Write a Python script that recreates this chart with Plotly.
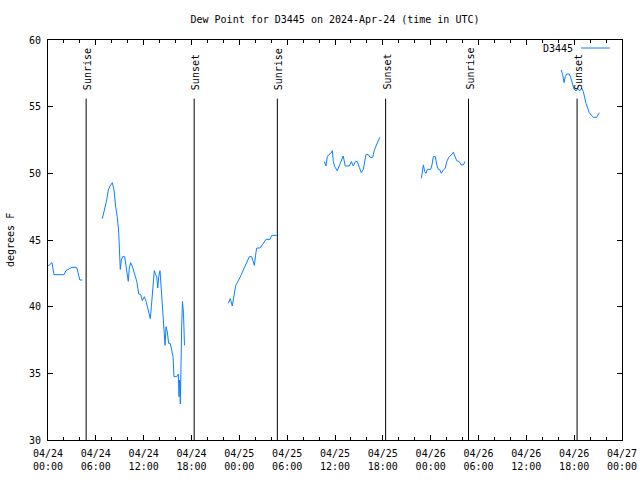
import plotly.graph_objects as go

# ---- data ----
seg1_t = ["2024-04-24 00:00", "2024-04-24 00:30", "2024-04-24 00:45", "2024-04-24 02:00", "2024-04-24 02:15",
          "2024-04-24 03:00", "2024-04-24 03:36", "2024-04-24 04:00", "2024-04-24 04:18"]
seg1_v = [43.05, 43.3, 42.4, 42.4, 42.7, 42.95, 42.95, 42.0, 42.0]

seg2_t = ["06:49", "07:09", "07:22", "07:34", "07:47", "08:04", "08:17", "08:29", "08:41", "08:52", "08:57",
          "09:04", "09:12", "09:22", "09:37", "09:47", "09:57", "10:04", "10:12", "10:22", "10:37", "10:55",
          "11:08", "11:23", "11:38", "11:50", "12:05", "12:18", "12:27", "12:40", "12:50", "12:58", "13:03",
          "13:13", "13:20", "13:31", "13:38", "13:46", "13:53", "14:03", "14:10", "14:18", "14:26", "14:33",
          "14:41", "14:48", "14:58", "15:08", "15:20", "15:31", "15:41", "15:48", "16:09", "16:21", "16:26",
          "16:31", "16:36", "16:46", "16:52", "17:00", "17:03", "17:07"]
seg2_t = ["2024-04-24 " + t for t in seg2_t]
seg2_v = [46.6, 47.4, 48.0, 48.75, 49.05, 49.3, 48.75, 47.5, 46.75, 45.6, 43.75,
          42.8, 43.5, 43.75, 43.75, 43.1, 42.25, 41.9, 42.9, 43.3, 42.95, 42.4,
          41.9, 40.95, 40.9, 40.45, 40.75, 40.4, 40.0, 39.55, 39.1, 40.0, 40.75,
          41.6, 42.7, 42.4, 42.25, 41.4, 42.25, 42.7, 41.5, 40.9, 39.5, 37.9,
          37.1, 38.5, 38.1, 37.25, 37.25, 36.75, 36.25, 34.75, 34.75, 34.95, 33.25,
          34.5, 32.7, 38.5, 40.4, 39.5, 38.0, 37.1]

seg3_t = ["2024-04-24 22:37", "2024-04-24 22:52", "2024-04-24 23:07", "2024-04-24 23:22", "2024-04-24 23:33",
          "2024-04-24 23:45", "2024-04-25 00:00", "2024-04-25 00:15", "2024-04-25 00:30", "2024-04-25 00:45",
          "2024-04-25 01:00", "2024-04-25 01:15", "2024-04-25 01:33", "2024-04-25 01:45", "2024-04-25 01:53",
          "2024-04-25 02:05", "2024-04-25 02:11", "2024-04-25 02:36", "2024-04-25 02:48", "2024-04-25 03:06",
          "2024-04-25 03:21", "2024-04-25 03:51", "2024-04-25 04:04", "2024-04-25 04:41"]
seg3_v = [40.25, 40.6, 40.05, 41.0, 41.6, 41.8, 42.05, 42.4, 42.75, 43.1, 43.5, 43.75, 43.75, 43.4, 43.1,
          44.05, 44.4, 44.4, 44.6, 44.8, 45.05, 45.05, 45.35, 45.35]

seg4_t = ["10:40", "10:52", "11:02", "11:13", "11:28", "11:40", "11:47", "11:58", "12:17", "12:32", "12:47",
          "13:02", "13:17", "13:48", "14:03", "14:18", "14:33", "14:48", "15:03", "15:18", "15:33", "15:44",
          "15:53", "16:11", "16:23", "16:44", "16:56", "17:09", "17:21", "17:37"]
seg4_t = ["2024-04-25 " + t for t in seg4_t]
seg4_v = [50.88, 50.55, 51.25, 51.4, 51.5, 51.7, 50.88, 50.5, 50.2, 50.55, 50.95,
          51.3, 50.55, 50.55, 50.88, 50.55, 50.88, 50.88, 50.45, 50.05, 50.3, 51.05,
          51.4, 51.4, 51.2, 51.2, 51.75, 52.05, 52.38, 52.7]

seg5_t = ["2024-04-25 22:50", "2024-04-25 22:57", "2024-04-25 23:05", "2024-04-25 23:15", "2024-04-25 23:25",
          "2024-04-25 23:35", "2024-04-26 00:00", "2024-04-26 00:10", "2024-04-26 00:20", "2024-04-26 00:35",
          "2024-04-26 00:46", "2024-04-26 00:58", "2024-04-26 01:10", "2024-04-26 01:20", "2024-04-26 01:35",
          "2024-04-26 01:50", "2024-04-26 02:01", "2024-04-26 02:16", "2024-04-26 02:31", "2024-04-26 02:43",
          "2024-04-26 02:50", "2024-04-26 03:01", "2024-04-26 03:16", "2024-04-26 03:35", "2024-04-26 03:50",
          "2024-04-26 04:06", "2024-04-26 04:18"]
seg5_v = [49.63, 50.25, 50.63, 50.13, 50.0, 50.3, 50.3, 50.63, 51.25, 51.25, 50.63, 50.3, 50.25, 50.0,
          50.25, 50.38, 50.88, 51.2, 51.33, 51.45, 51.58, 51.25, 50.95, 50.88, 50.63, 50.63, 50.88]

seg6_t = ["16:23", "16:34", "16:44", "16:53", "17:04", "17:23", "17:34", "17:49", "17:59", "18:14", "18:29",
          "18:44", "18:57", "19:09", "19:19", "19:29", "19:42", "19:54", "20:07", "20:24", "20:50", "20:59", "21:09"]
seg6_t = ["2024-04-26 " + t for t in seg6_t]
seg6_v = [57.75, 57.38, 56.8, 57.25, 57.45, 57.45, 57.2, 56.75, 56.3, 56.2, 56.3,
          56.2, 56.38, 56.13, 55.63, 55.25, 54.88, 54.55, 54.38, 54.2, 54.2, 54.38, 54.55]

sun_times = ["2024-04-24 04:47", "2024-04-24 18:20", "2024-04-25 04:46",
             "2024-04-25 18:21", "2024-04-26 04:45", "2024-04-26 18:22"]
sun_labels = ["Sunrise", "Sunset", "Sunrise", "Sunset", "Sunrise", "Sunset"]

station = "D3445"
title_text = "Dew Point for D3445 on 2024-Apr-24 (time in UTC)"

# ---- assemble series with gaps ----
times, dew = [], []
for t, v in [(seg1_t, seg1_v), (seg2_t, seg2_v), (seg3_t, seg3_v),
             (seg4_t, seg4_v), (seg5_t, seg5_v), (seg6_t, seg6_v)]:
    times += t + [None]
    dew += v + [None]

FONT = "DejaVu Sans Mono"
LINE_COLOR = "#0a80ff"

fig = go.Figure()
fig.add_trace(go.Scatter(x=times, y=dew, mode="lines", connectgaps=False,
                         line=dict(color=LINE_COLOR, width=1), showlegend=False,
                         name=station))

for t, lab in zip(sun_times, sun_labels):
    fig.add_shape(type="line", xref="x", yref="y", x0=t, x1=t, y0=30, y1=55.6,
                  line=dict(color="black", width=1))
    fig.add_annotation(x=t, y=56.1, xref="x", yref="y", text=lab, textangle=-90,
                       showarrow=False, xanchor="center", yanchor="bottom", xshift=1,
                       font=dict(family=FONT, size=10, color="black"))

# legend (gnuplot style: text then sample)
fig.add_annotation(x=0.918, y=0.98, xref="paper", yref="paper", text=station,
                   showarrow=False, xanchor="right", yanchor="middle",
                   font=dict(family=FONT, size=10, color="black"))
fig.add_shape(type="line", xref="paper", yref="paper", x0=0.9286, x1=0.979, y0=0.98, y1=0.98,
              line=dict(color=LINE_COLOR, width=1))

# y label
fig.add_annotation(x=0, y=0.5, xref="paper", yref="paper", text="degrees F", textangle=-90,
                   showarrow=False, xanchor="center", yanchor="middle", xshift=-38,
                   font=dict(family=FONT, size=10, color="black"))

fig.update_layout(
    width=640, height=480,
    margin=dict(l=48, r=18, t=40, b=40, autoexpand=False),
    paper_bgcolor="white", plot_bgcolor="white",
    font=dict(family=FONT, size=10, color="black"),
    title=dict(text=title_text, x=0.5, xref="paper", xanchor="center",
               y=1 - 19 / 480, yref="container", yanchor="middle",
               font=dict(family=FONT, size=10, color="black")),
    showlegend=False,
)
fig.update_xaxes(
    type="date", range=["2024-04-24 00:00", "2024-04-27 00:00"], automargin=False,
    tick0="2024-04-24 00:00", dtick=6 * 3600 * 1000, tickformat="%m/%d<br>%H:%M",
    ticks="inside", ticklen=5, tickcolor="black", showgrid=False, zeroline=False,
    showline=True, linecolor="black", linewidth=1, mirror="ticks",
    minor=dict(dtick=2 * 3600 * 1000, tick0="2024-04-24 00:00", ticks="inside", ticklen=3,
               tickcolor="black", showgrid=False),
    tickfont=dict(family=FONT, size=10, color="black"), ticklabelstandoff=4,
)
fig.update_yaxes(
    range=[30, 60], dtick=5, tick0=30, automargin=False,
    ticks="inside", ticklen=5, tickcolor="black", showgrid=False, zeroline=False,
    showline=True, linecolor="black", linewidth=1, mirror="ticks",
    tickfont=dict(family=FONT, size=10, color="black"), ticklabelstandoff=4,
)

fig.write_html("out.html")
